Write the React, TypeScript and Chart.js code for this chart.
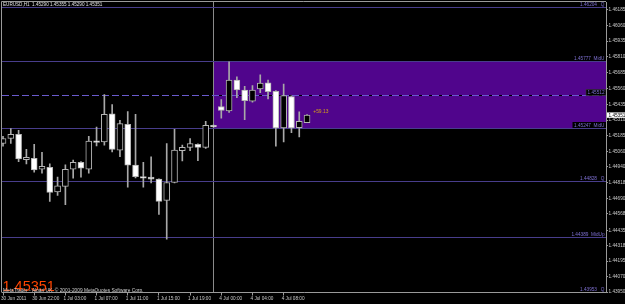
import React, { useEffect, useRef } from 'react';
import { Chart, registerables } from 'chart.js';

Chart.register(...registerables);

// ---- data (EURUSD H1) ----
const opens = [
  1.45126, 1.45165, 1.45199, 1.44997, 1.45008, 1.44922, 1.44938, 1.44742, 1.44786, 1.44922,
  1.44977, 1.44922, 1.45146, 1.45139, 1.45361, 1.45073, 1.45277, 1.44954, 1.44864, 1.44860,
  1.44844, 1.44676, 1.44817, 1.45068, 1.45095, 1.45120, 1.45095, 1.45269, 1.45418, 1.45383,
  1.45628, 1.45549, 1.45461, 1.45557, 1.45606, 1.45538, 1.45248, 1.45497, 1.45251, 1.45290,
];
const highs = [
  1.45183, 1.45244, 1.45230, 1.45079, 1.45120, 1.45055, 1.44964, 1.44860, 1.44956, 1.44995,
  1.44982, 1.45183, 1.45256, 1.45512, 1.45434, 1.45309, 1.45379, 1.45356, 1.44977, 1.45021,
  1.44846, 1.45126, 1.45238, 1.45113, 1.45165, 1.45124, 1.45301, 1.45273, 1.45473, 1.45771,
  1.45653, 1.45577, 1.45583, 1.45669, 1.45628, 1.45545, 1.45596, 1.45502, 1.45377, 1.45355,
];
const lows = [
  1.45105, 1.45126, 1.44982, 1.44964, 1.44899, 1.44891, 1.44668, 1.44715, 1.44642, 1.44852,
  1.44860, 1.44891, 1.45107, 1.45113, 1.45060, 1.45021, 1.44781, 1.44854, 1.44781, 1.44813,
  1.44564, 1.44368, 1.44813, 1.44987, 1.45068, 1.44990, 1.45087, 1.45254, 1.45327, 1.45371,
  1.45489, 1.45314, 1.45452, 1.45528, 1.45479, 1.45105, 1.45139, 1.45211, 1.45178, 1.45290,
];
const closes = [
  1.45165, 1.45199, 1.45003, 1.45016, 1.44917, 1.44946, 1.44739, 1.44791, 1.44922, 1.44977,
  1.44930, 1.45144, 1.45134, 1.45356, 1.45079, 1.45283, 1.44954, 1.44864, 1.44852, 1.44844,
  1.44668, 1.44817, 1.45073, 1.45095, 1.45126, 1.45095, 1.45269, 1.45256, 1.45387, 1.45628,
  1.45549, 1.45465, 1.45549, 1.45604, 1.45536, 1.45248, 1.45505, 1.45248, 1.45301, 1.45351,
];

const xTickIndex = [0, 4, 8, 12, 16, 20, 24, 28, 32, 36];
const xTickLabels = [
  '30 Jun 2011', '30 Jun 22:00', '1 Jul 03:00', '1 Jul 07:00', '1 Jul 11:00',
  '1 Jul 15:00', '1 Jul 19:00', '4 Jul 00:00', '4 Jul 04:00', '4 Jul 08:00',
];
const yTickValues = [
  1.46185, 1.4606, 1.45935, 1.4581, 1.45685, 1.4556, 1.45435, 1.4531, 1.45185, 1.4506,
  1.4494, 1.44818, 1.4469, 1.44568, 1.44435, 1.44318, 1.44195, 1.4407, 1.4395,
];

const levelValues = [1.46204, 1.45777, 1.45247, 1.44828, 1.44389, 1.43953];
const levelLabels = ['1.46204   Q', '1.45777  MidU', '1.45247  MidU', '1.44828   Q', '1.44389  MidUp', '1.43953   Q'];
const levelLabelBg = [false, false, true, false, false, false];
const boxTop = 1.45777;
const boxBottom = 1.45247;
const boxStartIndex = 27;
const midValue = 1.45512;
const separatorIndex = 26.92;
const profitText = '+59.13';
const profitIndex = 39.8;
const profitPrice = 1.45377;
const headerText = 'EURUSD,H1  1.45290 1.45355 1.45290 1.45351';
const bigPriceText = '1.45351';
const copyrightText = 'MetaTrader - Alpari UK, \u00A9 2001-2009 MetaQuotes Software Corp.';
const currentPrice = 1.45351;

// ---- style ----
const Y_MIN = 1.43947;
const Y_MAX = 1.46245;
const X_MIN = -0.13;
const X_MAX = 77.35;
const AXIS = '#9a9a9a';
const TEXT = '#c8c8c8';
const OUTLINE = '#b4b4b4';
const WICK = '#a8a8a8';
const BOX = '#50058c';
const LEVEL = '#483d8b';
const LEVEL_TEXT = '#7d6fd0';
const DASH = '#6a5acd';
const FONT = 'Liberation Sans';

const mt4Plugin = {
  id: 'mt4',
  beforeDraw(chart: any) {
    const { ctx, width, height, chartArea: a, scales } = chart;
    const x = scales.x;
    const y = scales.y;
    ctx.save();
    ctx.fillStyle = '#000';
    ctx.fillRect(0, 0, width, height);
    ctx.beginPath();
    ctx.rect(a.left, a.top, a.right - a.left, a.bottom - a.top);
    ctx.clip();
    const bx = x.getPixelForValue(boxStartIndex);
    const bt = y.getPixelForValue(boxTop);
    const bb = y.getPixelForValue(boxBottom);
    ctx.fillStyle = BOX;
    ctx.fillRect(bx, bt, a.right - bx, bb - bt);
    const sx = Math.round(x.getPixelForValue(separatorIndex)) + 0.5;
    ctx.strokeStyle = '#8a8a8a';
    ctx.lineWidth = 1;
    ctx.beginPath();
    ctx.moveTo(sx, a.top);
    ctx.lineTo(sx, a.bottom);
    ctx.stroke();
    ctx.strokeStyle = LEVEL;
    levelValues.forEach((v) => {
      const py = Math.round(y.getPixelForValue(v)) + 0.5;
      ctx.beginPath();
      ctx.moveTo(a.left, py);
      ctx.lineTo(a.right, py);
      ctx.stroke();
    });
    const my = Math.round(y.getPixelForValue(midValue)) + 0.5;
    ctx.strokeStyle = '#000';
    ctx.beginPath();
    ctx.moveTo(a.left, my);
    ctx.lineTo(a.right, my);
    ctx.stroke();
    ctx.strokeStyle = DASH;
    ctx.setLineDash([7, 3]);
    ctx.beginPath();
    ctx.moveTo(a.left, my);
    ctx.lineTo(a.right, my);
    ctx.stroke();
    ctx.restore();
  },
  afterDatasetsDraw(chart: any) {
    const { ctx, chartArea: a, scales } = chart;
    const x = scales.x;
    const y = scales.y;
    ctx.save();
    ctx.beginPath();
    ctx.rect(a.left, a.top, a.right - a.left, a.bottom - a.top);
    ctx.clip();
    ctx.font = `4.7px "${FONT}"`;
    ctx.textAlign = 'right';
    ctx.textBaseline = 'alphabetic';
    levelValues.forEach((v, i) => {
      const py = Math.round(y.getPixelForValue(v));
      const label = levelLabels[i];
      if (levelLabelBg[i]) {
        const w = ctx.measureText(label).width;
        ctx.fillStyle = '#000';
        ctx.fillRect(a.right - 2 - w - 1, py - 6, w + 3, 6);
      }
      ctx.fillStyle = LEVEL_TEXT;
      ctx.fillText(label, a.right - 1.5, py - 1.2);
    });
    const my = Math.round(y.getPixelForValue(midValue));
    const mt = midValue.toFixed(5);
    const mw = ctx.measureText(mt).width;
    ctx.fillStyle = '#000';
    ctx.fillRect(a.right - mw - 3, my - 5.5, mw + 3, 6);
    ctx.strokeStyle = '#3a3a3a';
    ctx.lineWidth = 0.6;
    ctx.strokeRect(a.right - mw - 3, my - 5.5, mw + 3, 6);
    ctx.fillStyle = LEVEL_TEXT;
    ctx.fillText(mt, a.right - 1.5, my - 1);
    ctx.textAlign = 'left';
    ctx.textBaseline = 'middle';
    ctx.font = `4.9px "${FONT}"`;
    ctx.fillStyle = '#d4a017';
    ctx.fillText(profitText, x.getPixelForValue(profitIndex), y.getPixelForValue(profitPrice));
    ctx.textBaseline = 'top';
    ctx.font = `4.6px "${FONT}"`;
    ctx.fillStyle = '#e0e0e0';
    ctx.fillText(headerText, 3, 2.6);
    ctx.textBaseline = 'alphabetic';
    ctx.font = `14.5px "${FONT}"`;
    ctx.fillStyle = '#ff4500';
    ctx.fillText(bigPriceText, 2.5, 290.5);
    ctx.font = `4.8px "${FONT}"`;
    ctx.fillStyle = '#cfcfcf';
    ctx.fillText(copyrightText, 3, 292);
    ctx.restore();
  },
  afterDraw(chart: any) {
    const { ctx, chartArea: a, scales, width } = chart;
    const y = scales.y;
    ctx.save();
    ctx.strokeStyle = AXIS;
    ctx.lineWidth = 1;
    ctx.beginPath();
    ctx.moveTo(a.left - 0.5, a.top - 0.5);
    ctx.lineTo(a.right, a.top - 0.5);
    ctx.moveTo(a.left - 0.5, a.top - 0.5);
    ctx.lineTo(a.left - 0.5, a.bottom);
    ctx.stroke();
    const cy = y.getPixelForValue(currentPrice);
    ctx.fillStyle = '#ffffff';
    ctx.fillRect(a.right + 1, cy - 2.6, width - a.right, 5.4);
    ctx.fillStyle = '#000';
    ctx.font = `4.7px "${FONT}"`;
    ctx.textAlign = 'left';
    ctx.textBaseline = 'middle';
    ctx.fillText(currentPrice.toFixed(5), a.right + 2.5, cy + 0.2);
    ctx.restore();
  },
};

export default function App() {
  const ref = useRef<HTMLCanvasElement | null>(null);

  useEffect(() => {
    if (!ref.current) return;
    const idx = opens.map((_, i) => i);
    const bull = idx.map((i) => closes[i] >= opens[i]);
    const chart = new Chart(ref.current, {
      type: 'bar',
      data: {
        datasets: [
          {
            label: 'wick',
            data: idx.map((i) => ({ x: i, y: [lows[i], highs[i]] })) as any,
            backgroundColor: WICK,
            borderWidth: 0,
            barThickness: 1,
            grouped: false,
            order: 2,
          } as any,
          {
            label: 'body',
            data: idx.map((i) => ({ x: i, y: [opens[i], closes[i]] })) as any,
            backgroundColor: idx.map((i) => (bull[i] ? '#000000' : '#ffffff')),
            borderColor: OUTLINE,
            borderWidth: 1,
            borderSkipped: false,
            barThickness: 6,
            grouped: false,
            order: 1,
          } as any,
        ],
      },
      options: {
        animation: false,
        responsive: false,
        maintainAspectRatio: false,
        devicePixelRatio: 1,
        layout: { padding: { left: 2, top: 2, right: 0, bottom: 0 } },
        plugins: { legend: { display: false }, tooltip: { enabled: false } },
        scales: {
          x: {
            type: 'linear',
            min: X_MIN,
            max: X_MAX,
            offset: false,
            grid: { display: true, drawOnChartArea: false, drawTicks: true, tickLength: 3, color: AXIS, offset: false },
            border: { display: true, color: AXIS },
            ticks: {
              autoSkip: false,
              maxRotation: 0,
              minRotation: 0,
              align: 'start',
              labelOffset: -2,
              padding: 0.5,
              color: TEXT,
              font: { family: FONT, size: 4.7 },
              callback: (v: any) => {
                const k = xTickIndex.indexOf(Number(v));
                return k >= 0 ? xTickLabels[k] : '';
              },
            },
            afterBuildTicks: (s: any) => {
              s.ticks = xTickIndex.map((v) => ({ value: v }));
            },
            afterFit: (s: any) => {
              s.height = 11.5;
              s.paddingLeft = 0;
              s.paddingRight = 0;
            },
          },
          y: {
            type: 'linear',
            position: 'right',
            min: Y_MIN,
            max: Y_MAX,
            grid: { display: true, drawOnChartArea: false, drawTicks: true, tickLength: 2, color: AXIS },
            border: { display: true, color: AXIS },
            ticks: {
              autoSkip: false,
              padding: 0.5,
              color: TEXT,
              font: { family: FONT, size: 4.7 },
              callback: (v: any) => Number(v).toFixed(5),
            },
            afterBuildTicks: (s: any) => {
              s.ticks = yTickValues.map((v) => ({ value: v }));
            },
            afterFit: (s: any) => {
              s.width = 19;
              s.paddingTop = 0;
              s.paddingBottom = 0;
            },
          },
        },
      } as any,
      plugins: [mt4Plugin],
    });
    return () => chart.destroy();
  }, []);

  return (
    <div style={{ position: 'fixed', left: 0, top: 0, width: 625, height: 304, background: '#000' }}>
      <canvas ref={ref} width={625} height={304} style={{ width: 625, height: 304, display: 'block' }} />
    </div>
  );
}
